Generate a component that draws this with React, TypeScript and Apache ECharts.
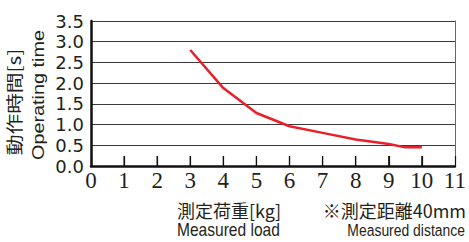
import React, { useEffect, useRef } from "react";
import * as echarts from "echarts";

const loadKg = [3, 4, 5, 6, 7, 8, 9, 9.5, 10];
const timeS = [2.8, 1.88, 1.28, 0.96, 0.8, 0.64, 0.53, 0.45, 0.45];
const xTicks = { min: 0, max: 11, interval: 1 };
const yTicks = { min: 0, max: 3.5, interval: 0.5 };
const innerTickValues = [1, 2, 3, 4, 5, 6, 7, 8, 9, 10];
const yNameJa = "動作時間[s]";
const yNameEn = "Operating time";
const xNameJa = "測定荷重[kg]";
const xNameEn = "Measured load";
const noteJa = "※測定距離40mm";
const noteEn = "Measured distance";

const TXT = "#231f20";

export default function App() {
  const ref = useRef<HTMLDivElement>(null);
  useEffect(() => {
    if (!ref.current) return;
    const chart = echarts.init(ref.current, undefined, { renderer: "svg" });
    chart.setOption({
      animation: false,
      grid: { left: 91, right: 12, top: 21, bottom: 76 },
      xAxis: {
        type: "value",
        min: xTicks.min,
        max: xTicks.max,
        interval: xTicks.interval,
        axisLine: { show: true, lineStyle: { color: "#111", width: 2.5 } },
        axisTick: { show: true, inside: true, length: 10, lineStyle: { color: "#111", width: 1.2 } },
        axisLabel: { color: TXT, fontSize: 23, fontFamily: "Liberation Sans Narrow", margin: 3 },
        splitLine: { show: false },
      },
      yAxis: [
        {
          type: "value",
          min: yTicks.min,
          max: yTicks.max,
          interval: yTicks.interval,
          axisLine: { show: true, lineStyle: { color: "#111", width: 2.5 } },
          axisTick: { show: false },
          axisLabel: {
            color: TXT,
            fontSize: 18,
            fontFamily: "DejaVu Sans",
            margin: 7,
            formatter: (v: number) => v.toFixed(1),
          },
          splitLine: { show: true, lineStyle: { color: "#3a3a3a", width: 1 } },
        },
        {
          type: "value",
          position: "right",
          min: yTicks.min,
          max: yTicks.max,
          interval: yTicks.interval,
          axisLine: { show: true, lineStyle: { color: "#666", width: 1 } },
          axisTick: { show: false },
          axisLabel: { show: false },
          splitLine: { show: false },
        },
      ],
      series: [
        {
          type: "custom",
          data: innerTickValues.map((v) => [v, 0]),
          silent: true,
          z: 3,
          renderItem: (_params: any, api: any) => {
            const p = api.coord([api.value(0), 0]);
            return {
              type: "line",
              shape: { x1: p[0], y1: p[1], x2: p[0], y2: p[1] - 10 },
              style: { stroke: "#111", lineWidth: 1.2 },
            };
          },
        },
        {
          type: "line",
          data: loadKg.map((x, i) => [x, timeS[i]]),
          showSymbol: false,
          symbol: "none",
          lineStyle: { color: "#e8202a", width: 2.5 },
          yAxisIndex: 0,
          z: 5,
        },
      ],
      graphic: [
        {
          type: "text",
          x: 13.5,
          y: 102,
          rotation: Math.PI / 2,
          scaleX: 1.22,
          style: {
            text: yNameJa,
            fill: TXT,
            fontSize: 17,
            fontFamily: "Noto Sans CJK JP",
            textAlign: "center",
            textVerticalAlign: "middle",
          },
        },
        {
          type: "text",
          x: 38.5,
          y: 95,
          rotation: Math.PI / 2,
          scaleX: 1.24,
          style: {
            text: yNameEn,
            fill: TXT,
            fontSize: 16,
            fontFamily: "Liberation Sans",
            textAlign: "center",
            textVerticalAlign: "middle",
          },
        },
        {
          type: "text",
          x: 177,
          y: 209.5,
          style: {
            text: xNameJa,
            fill: TXT,
            fontSize: 18,
            fontFamily: "Noto Sans CJK JP",
            textAlign: "left",
            textVerticalAlign: "middle",
          },
        },
        {
          type: "text",
          x: 177,
          y: 230,
          scaleX: 0.865,
          style: {
            text: xNameEn,
            fill: TXT,
            fontSize: 18,
            fontFamily: "Liberation Sans",
            textAlign: "left",
            textVerticalAlign: "middle",
          },
        },
        {
          type: "text",
          x: 466,
          y: 209.5,
          style: {
            text: noteJa,
            fill: TXT,
            fontSize: 18,
            fontFamily: "Noto Sans CJK JP",
            textAlign: "right",
            textVerticalAlign: "middle",
          },
        },
        {
          type: "text",
          x: 465,
          y: 230,
          scaleX: 0.82,
          style: {
            text: noteEn,
            fill: TXT,
            fontSize: 17,
            fontFamily: "Liberation Sans",
            textAlign: "right",
            textVerticalAlign: "middle",
          },
        },
      ],
    });
    return () => chart.dispose();
  }, []);
  return <div ref={ref} style={{ width: 469, height: 242, position: "absolute", left: 0, top: 0 }} />;
}
